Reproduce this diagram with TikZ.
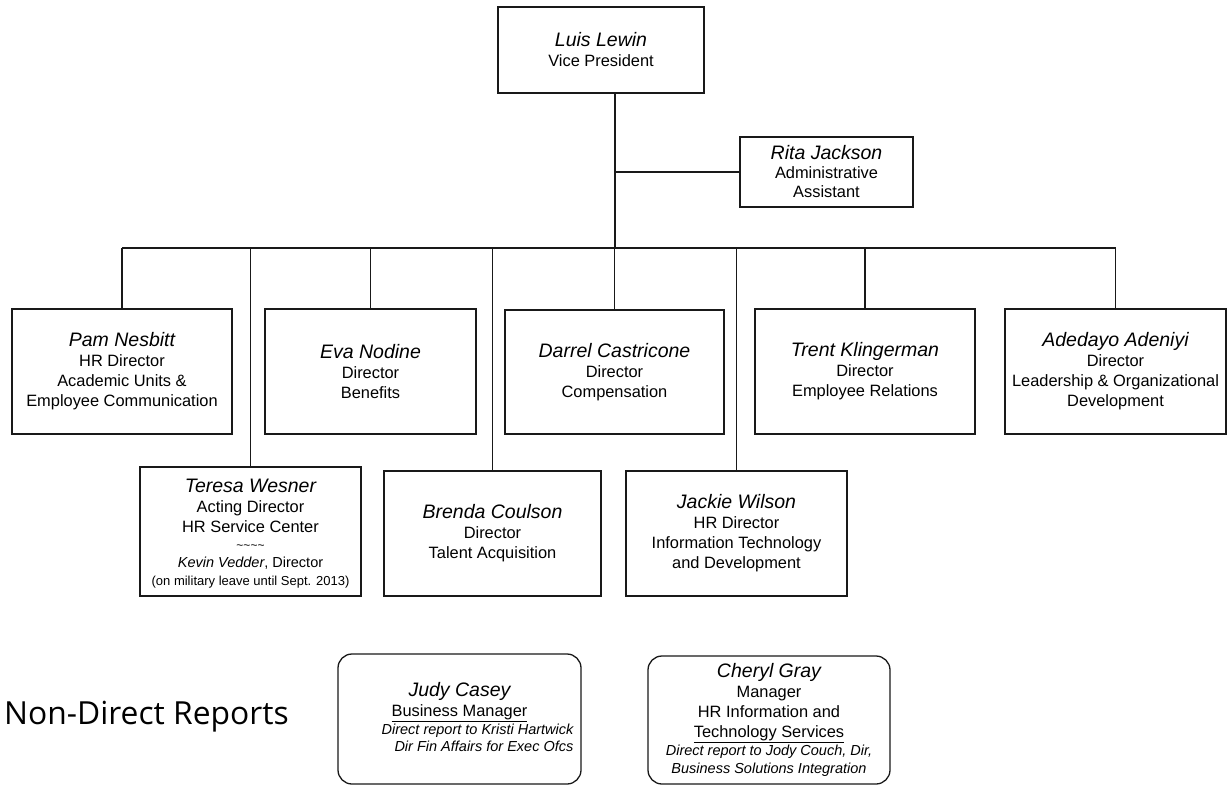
\documentclass[tikz,border=0pt]{standalone}
\usepackage{fontspec}
\setmainfont{Liberation Sans}
\newfontfamily\headfont{Open Sans}
\newcommand\who[1]{{\fontsize{19.5}{20}\selectfont\itshape #1}}
\newcommand\smallnote[1]{{\fontsize{14.5}{17}\selectfont\itshape #1}}
\begin{document}
\begin{tikzpicture}[x=1pt,y=-1pt,
  box/.style={draw=black!90, line width=1.3pt, inner sep=0pt, align=center,
    font=\fontsize{16.4}{20}\selectfont},
  rbox/.style={box, rounded corners=14pt},
  wire/.style={draw=black!90, line width=1.2pt}]
\useasboundingbox (0,0) rectangle (1231,786);

% top level
\node[box, minimum width=206, minimum height=86] (luis) at (601,50)
  {\who{Luis Lewin}\\Vice President};
\node[box, minimum width=173, minimum height=70] (rita) at (826.5,172)
  {\who{Rita Jackson}\\[-1pt]Administrative\\[-1pt]Assistant};

% first row of directors
\node[box, minimum width=220, minimum height=125] (pam) at (122,371.5)
  {\who{Pam Nesbitt}\\HR Director\\Academic Units \&\\Employee Communication};
\node[box, minimum width=211, minimum height=125] (eva) at (370.5,371.5)
  {\who{Eva Nodine}\\Director\\Benefits};
\node[box, minimum width=219, minimum height=124] (darrel) at (614.5,372)
  {\who{Darrel Castricone}\\Director\\Compensation};
\node[box, minimum width=220, minimum height=125] (trent) at (865,371.5)
  {\who{Trent Klingerman}\\Director\\Employee Relations};
\node[box, minimum width=221, minimum height=125] (adedayo) at (1115.5,371.5)
  {\who{Adedayo Adeniyi}\\Director\\Leadership \& Organizational\\Development};

% second row of directors
\node[box, minimum width=221, minimum height=129] (teresa) at (250.5,531.5)
  {\\[-3pt]\who{Teresa Wesner}\\Acting Director\\HR Service Center\\[-3pt]
   {\fontsize{12}{12}\selectfont\textasciitilde\textasciitilde\textasciitilde\textasciitilde}\\[-2pt]
   {\fontsize{14.5}{17}\selectfont\textit{Kevin Vedder}, Director}\\[-2pt]
   {\fontsize{13}{16}\selectfont (on military leave until Sept. 2013)}};
\node[box, minimum width=217, minimum height=125] (brenda) at (492.5,533.5)
  {\who{Brenda Coulson}\\Director\\Talent Acquisition};
\node[box, minimum width=221, minimum height=125] (jackie) at (736.5,533.5)
  {\who{Jackie Wilson}\\HR Director\\Information Technology\\and Development};

% reporting lines
\coordinate (bus) at (615,248);
\draw[wire] (luis.south -| bus) -- (bus);
\draw[wire] (rita.west) -- (rita.west -| bus);
\draw[wire] (pam.north |- bus) -- (adedayo.north |- bus);
\foreach \n in {pam,teresa,eva,brenda,darrel,jackie,trent,adedayo}
  \draw[wire] (\n.north) -- (\n.north |- bus);

% non-direct reports
\node[anchor=west, inner sep=0pt, font=\headfont\fontsize{31.8}{32}\selectfont] (ndr) at (4,717)
  {Non-Direct Reports};
\node[rbox, minimum width=243, minimum height=130] (judy) at (459.5,719)
  {\who{Judy Casey}\\\underline{Business Manager}\\[-2pt]
   \hspace*{36pt}\smallnote{\begin{tabular}[t]{@{}r@{}}Direct report to Kristi Hartwick\\Dir Fin Affairs for Exec Ofcs\end{tabular}}};
\node[rbox, minimum width=242, minimum height=128] (cheryl) at (769,720)
  {\who{Cheryl Gray}\\Manager\\HR Information and\\\underline{Technology Services}\\[-2pt]
   \smallnote{Direct report to Jody Couch, Dir,}\\[-2pt]
   \smallnote{Business Solutions Integration}};
\end{tikzpicture}
\end{document}
